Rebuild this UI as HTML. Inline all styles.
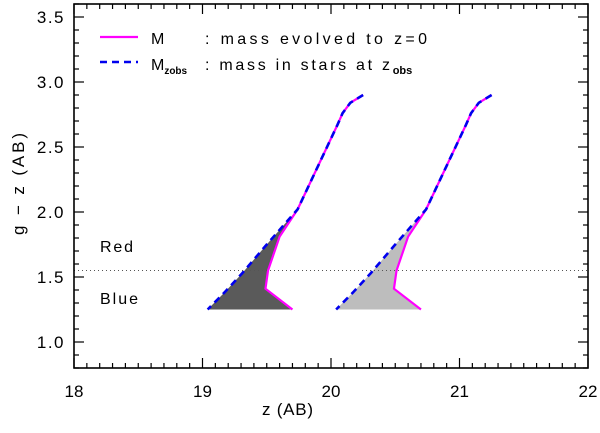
<!DOCTYPE html>
<html><head><meta charset="utf-8"><style>
body{margin:0;background:#fff;}
svg text{font-family:"Liberation Sans",sans-serif;fill:#000;}
</style></head><body>
<svg id="c" width="600" height="428" xmlns="http://www.w3.org/2000/svg"></svg>
<script>
const xTicks=[18,19,20,21,22];
const yTicks=[1.0,1.5,2.0,2.5,3.0,3.5];
const shifts=[0,1];
const fills=["#5a5a5a","#bdbdbd"];
const magX=[20.25,20.15,20.09,20.05,19.74,19.6,19.51,19.49,19.70];
const magY=[2.90,2.84,2.76,2.67,2.02,1.81,1.55,1.41,1.25];
const bluX=[20.25,20.15,20.09,20.05,19.74,19.50,19.31,19.17,19.04];
const bluY=[2.90,2.84,2.76,2.67,2.02,1.75,1.53,1.38,1.25];
const divY=1.55;
const X0=74,X1=588,Y0=368,Y1=4,xmin=18,xmax=22,ymin=0.8,ymax=3.6;
const sx=v=>X0+(v-xmin)/(xmax-xmin)*(X1-X0);
const sy=v=>Y0-(v-ymin)/(ymax-ymin)*(Y0-Y1);
const svg=document.getElementById('c');
const NS="http://www.w3.org/2000/svg";
function mk(t,a,p){const e=document.createElementNS(NS,t);for(const k in a)e.setAttribute(k,a[k]);(p||svg).appendChild(e);return e;}
shifts.forEach((s,i)=>{
  const pts=[];
  magX.forEach((x,j)=>pts.push(sx(x+s)+','+sy(magY[j])));
  for(let j=bluX.length-1;j>=0;j--)pts.push(sx(bluX[j]+s)+','+sy(bluY[j]));
  const f=mk('polygon',{points:pts.join(' '),fill:fills[i],stroke:'none'});
  
  
  const m=mk('polyline',{points:magX.map((x,j)=>sx(x+s)+','+sy(magY[j])).join(' '),fill:'none',stroke:'#ff00ff','stroke-width':2.2});
  
  
  const b=mk('polyline',{points:bluX.map((x,j)=>sx(x+s)+','+sy(bluY[j])).join(' '),fill:'none',stroke:'#0000ee','stroke-width':2.6,'stroke-dasharray':'7,5'});
  
  
});
const d=mk('line',{x1:X0,x2:X1,y1:sy(divY),y2:sy(divY),stroke:'#555','stroke-width':1,'stroke-dasharray':'1,3'});


const fr=mk('rect',{x:X0,y:Y1,width:X1-X0,height:Y0-Y1,fill:'none',stroke:'#000','stroke-width':1.6});


for(let k=0;k<=40;k++){const v=xmin+k*0.1,x=sx(v),L=k%10==0?10:5;
  mk('line',{x1:x,x2:x,y1:Y0,y2:Y0-L,stroke:'#000','stroke-width':1.2});
  mk('line',{x1:x,x2:x,y1:Y1,y2:Y1+L,stroke:'#000','stroke-width':1.2});}
for(let k=0;k<=28;k++){const v=ymin+k*0.1,y=sy(v),L=(Math.round(v*10)%5==0)?10:5;
  mk('line',{x1:X0,x2:X0+L,y1:y,y2:y,stroke:'#000','stroke-width':1.2});
  mk('line',{x1:X1,x2:X1-L,y1:y,y2:y,stroke:'#000','stroke-width':1.2});}
xTicks.forEach(v=>{const t=mk('text',{x:sx(v),y:397,'font-size':17,'text-anchor':'middle'});t.textContent=v;
  });
yTicks.forEach(v=>{const t=mk('text',{x:65,y:sy(v)+6,'font-size':17,'text-anchor':'end','letter-spacing':'1.5'});t.textContent=v.toFixed(1);
  });
</script>
<svg width="600" height="428" style="position:absolute;left:0;top:0" xmlns="http://www.w3.org/2000/svg">
<text x="262" y="415" font-size="17" textLength="51">z (AB)</text>
<text transform="translate(24,184) rotate(-90)" font-size="17" text-anchor="middle" textLength="102">g − z (AB)</text>
<text x="100" y="252" font-size="16" textLength="33">Red</text>
<text x="100" y="304" font-size="16" textLength="38">Blue</text>
<g>
<line x1="100" x2="138" y1="37" y2="37" stroke="#ff00ff" stroke-width="2.2"/>
<text x="151" y="44" font-size="16">M</text>
<text x="205" y="44" font-size="16" textLength="222">: mass evolved to z=0</text>
<line x1="100" x2="138" y1="62" y2="62" stroke="#0000ee" stroke-width="2.6" stroke-dasharray="7,5"/>
<text x="151" y="70" font-size="16">M<tspan font-size="10" dy="4" font-weight="bold">zobs</tspan></text>
<text x="205" y="70" font-size="16"><tspan textLength="185">: mass in stars at z</tspan><tspan font-size="11" dy="4" font-weight="bold">obs</tspan></text>
</g>
</svg>
</body></html>
